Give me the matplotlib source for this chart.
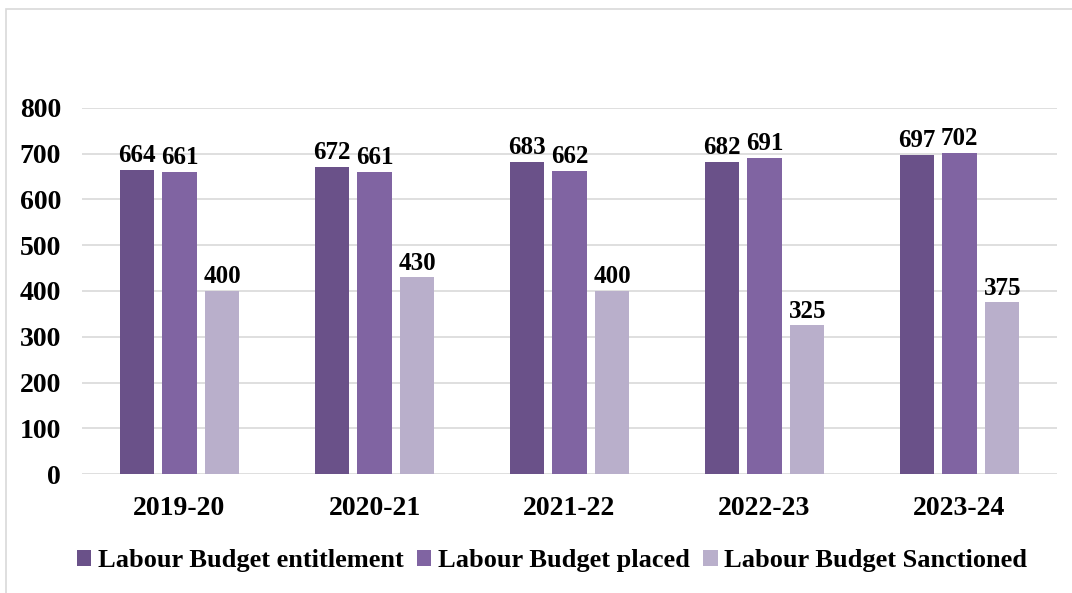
import matplotlib.pyplot as plt
import numpy as np
from matplotlib.patches import Rectangle

years = ['2019-20', '2020-21', '2021-22', '2022-23', '2023-24']
entitlement = [664, 672, 683, 682, 697]
placed = [661, 661, 662, 691, 702]
sanctioned = [400, 430, 400, 325, 375]

series = [
    ('Labour Budget entitlement', entitlement, '#6A5189'),
    ('Labour Budget placed', placed, '#8064A2'),
    ('Labour Budget Sanctioned', sanctioned, '#B9AFCB'),
]

plt.rcParams['font.family'] = ['Liberation Serif', 'DejaVu Serif']
plt.rcParams['font.weight'] = 'bold'

fig = plt.figure(figsize=(10.72, 5.93), dpi=100)
ax = fig.add_axes([82 / 1072, 1 - 474 / 593, 975 / 1072, 366 / 593])

# light frame around the chart area
fig.patches.append(Rectangle((6 / 1072, -0.1), 1.2, 1 - 9 / 593 + 0.1,
                             transform=fig.transFigure, fill=False,
                             edgecolor='#D9D9D9', linewidth=1.2))

x = np.arange(len(years))
width = 0.175
step = 0.22
for i, (name, vals, color) in enumerate(series):
    pos = x + (i - 1) * step
    bars = ax.bar(pos, vals, width, color=color, label=name, zorder=3)
    for b, v in zip(bars, vals):
        ax.text(b.get_x() + b.get_width() / 2, v + 6, str(v),
                ha='center', va='bottom', fontsize=18, fontweight='bold')

ax.set_ylim(0, 800)
ax.set_xlim(-0.5, 4.5)
ax.set_yticks(range(0, 801, 100))
ax.set_xticks(x)
ax.set_xticklabels(years)
ax.tick_params(axis='both', length=0, labelsize=20)
ax.tick_params(axis='x', pad=16)
ax.tick_params(axis='y', pad=15)
ax.yaxis.grid(True, color='#D9D9D9', linewidth=1.2, zorder=0)
for s in ax.spines.values():
    s.set_visible(False)

fig.legend(loc='center', bbox_to_anchor=(0.515, 1 - 561 / 593), ncol=3,
           frameon=False, fontsize=19, handlelength=0.55, handleheight=0.55,
           handletextpad=0.25, columnspacing=0.5)

fig.savefig('out.png', dpi=100)
